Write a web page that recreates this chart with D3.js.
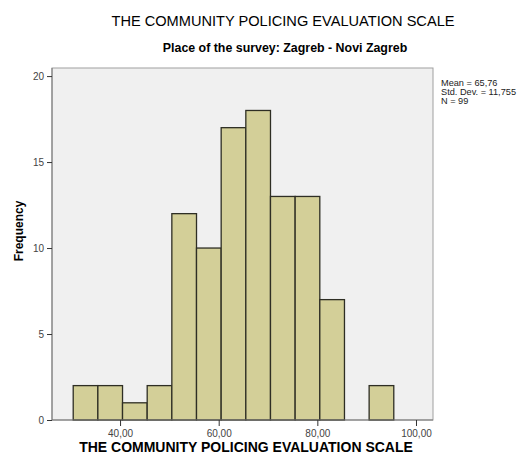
<!DOCTYPE html>
<html>
<head>
<meta charset="utf-8">
<script src="https://cdn.jsdelivr.net/npm/d3@7"></script>
<style>
  body { margin: 0; background: #fff; }
  svg { font-family: "Liberation Sans", Arial, sans-serif; }
</style>
</head>
<body>
<div id="chart"></div>
<script>
// histogram bins (lower edges) and counts
var binStart = [30.5, 35.5, 40.5, 45.5, 50.5, 55.5, 60.5, 65.5, 70.5, 75.5, 80.5, 85.5, 90.5]
var binWidth = 5
var counts = [2, 2, 1, 2, 12, 10, 17, 18, 13, 13, 7, 0, 2]
var xTicks = [40, 60, 80, 100]
var yTicks = [0, 5, 10, 15, 20]
var stats = ["Mean = 65,76", "Std. Dev. = 11,755", "N = 99"]

var data = binStart.map(function (d, i) {
    return { x0: d, x1: d + binWidth, n: counts[i] }
})

var margin = { top: 68, right: 93, bottom: 41, left: 52 }
var width = 526 - margin.left - margin.right
var height = 461 - margin.top - margin.bottom

var svg = d3.select('#chart').append('svg')
    .attr("width", 526)
    .attr("height", 461)

var g = svg.append("g")
    .attr("transform", "translate(" + margin.left + "," + margin.top + ")")

var x = d3.scaleLinear()
    .domain([26.2, 103.45])
    .range([0, width])

var y = d3.scaleLinear()
    .domain([0, 20.47])
    .range([height, 0])

// plot background
g.append("rect")
    .attr("width", width)
    .attr("height", height)
    .attr("fill", "#f0f0f0")
    .attr("stroke", "#a0a0a0")
    .attr("stroke-width", 1)

// bars
g.selectAll(".bar")
    .data(data.filter(function (d) { return d.n > 0 }))
    .enter().append("rect")
    .attr("class", "bar")
    .attr("x", function (d) { return x(d.x0) })
    .attr("y", function (d) { return y(d.n) })
    .attr("width", function (d) { return x(d.x1) - x(d.x0) })
    .attr("height", function (d) { return y(0) - y(d.n) })
    .attr("fill", "#d3cf98")
    .attr("stroke", "#2e2e24")
    .attr("stroke-width", 1.3)

// axes
var xAxisCall = d3.axisBottom(x)
    .tickValues(xTicks)
    .tickSize(6)
    .tickFormat(function (d) { return d3.format(".2f")(d).replace(".", ",") })
g.append("g")
    .attr("class", "x-axis")
    .attr("transform", "translate(0," + height + ")")
    .call(xAxisCall)

var yAxisCall = d3.axisLeft(y)
    .tickValues(yTicks)
    .tickSize(5)
g.append("g")
    .attr("class", "y-axis")
    .call(yAxisCall)

g.selectAll(".domain")
    .attr("stroke", "#777")
g.selectAll(".x-axis .domain")
    .attr("d", "M0,0H" + width)
g.selectAll(".y-axis .domain")
    .attr("d", "M0,0V" + height)
g.selectAll(".tick line")
    .attr("stroke", "#333")
g.selectAll(".tick text")
    .attr("fill", "#444")
    .style("font-size", "10px")
g.selectAll(".x-axis .tick text")
    .attr("y", 10)

// titles
svg.append("text")
    .attr("x", 283)
    .attr("y", 26)
    .attr("text-anchor", "middle")
    .style("font-size", "14.6px")
    .text("THE COMMUNITY POLICING EVALUATION SCALE")

svg.append("text")
    .attr("x", 285)
    .attr("y", 52)
    .attr("text-anchor", "middle")
    .style("font-size", "12.4px")
    .style("font-weight", "bold")
    .text("Place of the survey: Zagreb - Novi Zagreb")

svg.append("text")
    .attr("x", 246)
    .attr("y", 452)
    .attr("text-anchor", "middle")
    .style("font-size", "14px")
    .style("font-weight", "bold")
    .text("THE COMMUNITY POLICING EVALUATION SCALE")

svg.append("text")
    .attr("transform", "translate(23,231) rotate(-90)")
    .attr("text-anchor", "middle")
    .style("font-size", "12px")
    .style("font-weight", "bold")
    .text("Frequency")

// stats box
svg.selectAll(".stat")
    .data(stats)
    .enter().append("text")
    .attr("class", "stat")
    .attr("x", 441)
    .attr("y", function (d, i) { return 86 + i * 9.2 })
    .style("font-size", "9.2px")
    .attr("fill", "#222")
    .text(function (d) { return d })
</script>
</body>
</html>
